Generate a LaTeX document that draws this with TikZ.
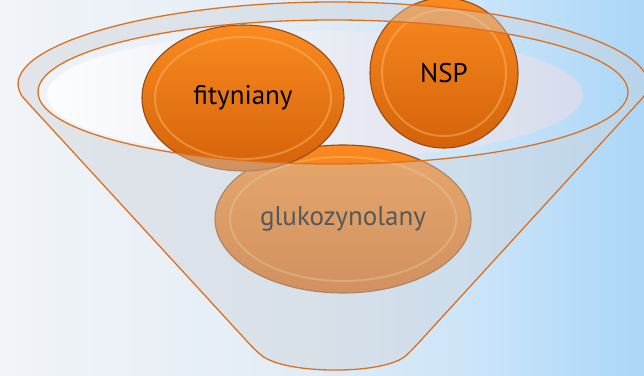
\documentclass[tikz,border=0pt]{standalone}
\usepackage{fontspec}
\setmainfont{PT Sans}
\usepackage{xcolor}
\usepackage{tikz}
\usetikzlibrary{shapes.geometric}
\usetikzlibrary{positioning}

\definecolor{bgleft}{RGB}{241,244,248}
\definecolor{bgmid}{RGB}{226,236,245}
\definecolor{bgblue}{RGB}{202,228,249}
\definecolor{bgright}{RGB}{170,214,248}
\definecolor{balltop}{RGB}{250,138,32}
\definecolor{ballbot}{RGB}{212,98,10}
\definecolor{ballrim}{RGB}{150,75,20}
\definecolor{ballshine}{RGB}{255,200,115}
\definecolor{rimline}{RGB}{222,112,30}
\definecolor{glass}{RGB}{205,210,216}
\definecolor{backwall}{RGB}{220,220,234}

\begin{document}
\begin{tikzpicture}[
  x=1pt, y=1pt,
  ball/.style={ellipse, draw=ballrim, line width=1.1pt, top color=balltop,
    bottom color=ballbot, inner sep=0pt, font=\fontsize{27}{32}\selectfont},
  shine/.style={draw=ballshine, line width=2pt, opacity=0.4},
  funnel/.style={fill=glass, fill opacity=0.42, draw=rimline, line width=1.3pt,
    even odd rule, rounded corners=8pt}
]
%% Background
\clip (0,0) rectangle (644,375);
\shade[left color=bgleft, right color=bgmid] (0,0) rectangle (300.5,375);
\shade[left color=bgmid, right color=bgblue] (300,0) rectangle (480.5,375);
\shade[left color=bgblue, right color=bgright] (480,0) rectangle (644,375);

%% Back wall inside the opening
\shade[left color=white, right color=backwall, opacity=0.85]
  (315,280) ellipse [x radius=268, y radius=64];

%% Balls
\node[ball, minimum width=256pt, minimum height=148pt] (glu) at (343,156) {glukozynolany};
\node[ball, minimum width=202pt, minimum height=146pt] (fit) at (243,277) {fityniany};
\node[ball, minimum width=148pt, minimum height=150pt] (nsp) at (444,302) {NSP};

\draw[shine] (glu.center) ellipse [x radius=113, y radius=62];
\draw[shine] (fit.center) ellipse [x radius=88, y radius=61];
\draw[shine] (nsp.center) ellipse [x radius=62, y radius=63];

%% Funnel front: ring and body
\path[funnel] (18,283) arc [start angle=180, end angle=0, x radius=315, y radius=90]
  -- (412,25) .. controls (385,0) and (285,0) .. (255,25) -- cycle
  (333,283) ellipse [x radius=295, y radius=72];

\end{tikzpicture}
\end{document}
